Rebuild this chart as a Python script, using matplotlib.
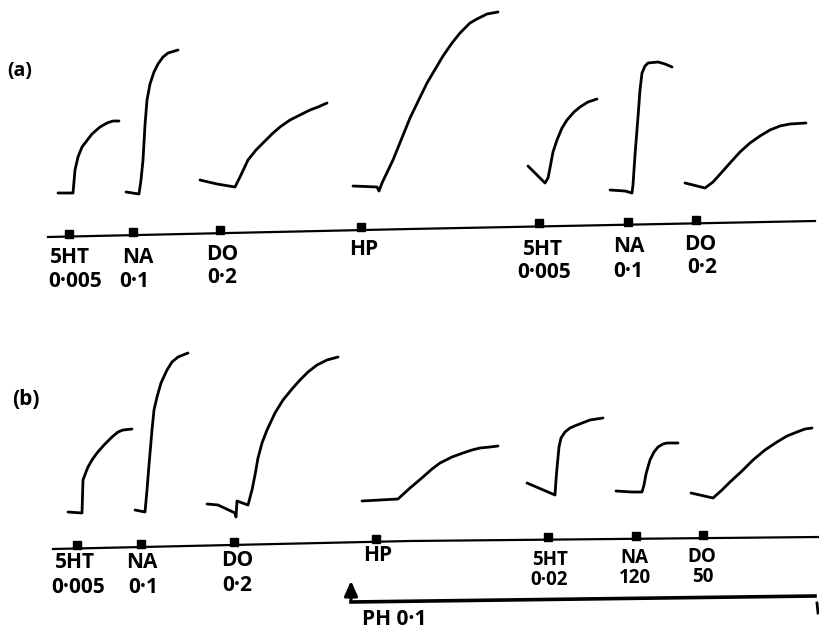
import matplotlib.pyplot as plt

# traces, pixel coords (x right, y down)
# panel (a)
a_5ht1 = [(58, 193), (73, 193), (75, 170), (78, 157), (82, 147), (92, 134), (100, 127), (107, 123), (113, 121), (119, 121)]
a_na1 = [(126, 192), (139, 194), (141, 180), (143, 160), (145, 125), (147, 100), (150, 84), (154, 72), (158, 64), (163, 57), (168, 53), (178, 50)]
a_do1 = [(200, 180), (217, 184), (235, 187), (240, 177), (248, 160), (256, 150), (263, 143), (272, 134), (280, 127), (290, 120), (300, 115), (310, 110), (318, 107), (327, 103)]
a_hp = [(353, 186), (377, 187), (379, 191), (382, 183), (393, 160), (410, 118), (427, 83), (443, 56), (452, 43), (460, 33), (470, 23), (477, 19), (487, 14), (498, 12)]
a_5ht2 = [(528, 166), (545, 183), (548, 178), (550, 168), (553, 152), (557, 140), (562, 128), (567, 120), (574, 112), (580, 107), (588, 102), (597, 99)]
a_na2 = [(610, 190), (625, 191), (632, 193), (633, 185), (635, 155), (638, 117), (640, 90), (642, 73), (645, 66), (648, 63), (658, 62), (665, 64), (672, 67)]
a_do2 = [(685, 183), (705, 188), (713, 182), (722, 172), (730, 163), (740, 152), (750, 143), (760, 136), (770, 130), (780, 126), (790, 124), (806, 123)]

# panel (b)
b_5ht1 = [(68, 512), (82, 513), (83, 480), (86, 472), (88, 467), (92, 460), (97, 453), (104, 445), (112, 437), (118, 432), (123, 430), (132, 429)]
b_na1 = [(135, 510), (145, 512), (147, 490), (149, 465), (152, 430), (154, 410), (157, 397), (161, 383), (167, 370), (172, 362), (178, 357), (188, 353)]
b_do1 = [(207, 504), (218, 505), (235, 513), (236, 517), (237, 501), (248, 505), (252, 490), (255, 475), (258, 458), (262, 443), (267, 430), (275, 413), (283, 400), (292, 389), (300, 380), (308, 372), (317, 365), (327, 360), (338, 357)]
b_hp = [(362, 501), (398, 499), (410, 488), (423, 477), (432, 469), (440, 463), (452, 457), (463, 453), (472, 450), (480, 448), (490, 447), (498, 446)]
b_5ht2 = [(527, 483), (555, 495), (556, 480), (557, 468), (559, 447), (561, 438), (565, 432), (570, 428), (577, 425), (590, 420), (603, 418)]
b_na2 = [(616, 491), (632, 492), (642, 492), (644, 485), (646, 474), (650, 460), (654, 452), (658, 447), (663, 444), (667, 443), (678, 443)]
b_do2 = [(691, 493), (713, 498), (722, 490), (730, 482), (742, 471), (753, 460), (765, 450), (777, 442), (787, 436), (797, 432), (805, 429), (812, 428)]

traces = [a_5ht1, a_na1, a_do1, a_hp, a_5ht2, a_na2, a_do2,
          b_5ht1, b_na1, b_do1, b_hp, b_5ht2, b_na2, b_do2]

# time base lines and drug markers
a_base = [(48, 237), (410, 229), (815, 221)]
b_base = [(53, 549), (410, 541), (819, 537)]
a_marks = [69, 133, 220, 361, 539, 628, 696]
b_marks = [77, 141, 234, 376, 548, 636, 703]

a_drugs = ["5HT", "NA", "DO", "HP", "5HT", "NA", "DO"]
a_doses = ["0·005", "0·1", "0·2", "", "0·005", "0·1", "0·2"]
a_drug_xy = [(70, 263), (138, 263), (222, 260), (364, 255), (543, 255), (629, 252), (700, 250)]
a_dose_xy = [(75, 287), (134, 287), (222, 283), (0, 0), (544, 278), (628, 277), (702, 273)]

b_drugs = ["5HT", "NA", "DO", "HP", "5HT", "NA", "DO"]
b_doses = ["0·005", "0·1", "0·2", "", "0·02", "120", "50"]
b_drug_xy = [(75, 568), (142, 568), (237, 566), (378, 561), (550, 565), (634, 563), (702, 562)]
b_dose_xy = [(78, 593), (143, 593), (237, 591), (0, 0), (549, 585), (635, 583), (703, 582)]
b_small = [False, False, False, False, True, True, True]

# phentolamine bar
ph_bar = [(351, 602), (815, 596)]

fig = plt.figure(figsize=(8.19, 6.31), dpi=100)
ax = fig.add_axes([0, 0, 1, 1])
ax.set_xlim(0, 819)
ax.set_ylim(631, 0)
ax.axis('off')

for tr in traces:
    xs = [p[0] for p in tr]
    ys = [p[1] for p in tr]
    ax.plot(xs, ys, color='black', lw=2.0, solid_capstyle='round', solid_joinstyle='round')

font = dict(family=['Open Sans', 'DejaVu Sans'], fontweight='bold', color='black', ha='center', va='baseline')


def base_y(base, x):
    for (x0, y0), (x1, y1) in zip(base[:-1], base[1:]):
        if x <= x1:
            return y0 + (y1 - y0) * (x - x0) / (x1 - x0)
    return base[-1][1]


for base, marks, drugs, doses, dxy, sxy, small in [
        (a_base, a_marks, a_drugs, a_doses, a_drug_xy, a_dose_xy, [False] * 7),
        (b_base, b_marks, b_drugs, b_doses, b_drug_xy, b_dose_xy, b_small)]:
    ax.plot([p[0] for p in base], [p[1] for p in base], color='black', lw=1.6)
    for m in marks:
        ax.plot(m, base_y(base, m) - 3, marker='s', color='black', ms=5.5)
    for d, xy, sm in zip(drugs, dxy, small):
        ax.text(xy[0], xy[1], d, fontsize=13.5 if sm else 15, **font)
    for s, xy, sm in zip(doses, sxy, small):
        if s:
            ax.text(xy[0], xy[1], s, fontsize=13.5 if sm else 15, **font)

ax.text(20, 76, "(a)", fontsize=14, **font)
ax.text(26, 405, "(b)", fontsize=15, **font)

# PH 0·1 bar with arrow
(px0, py0), (px1, py1) = ph_bar
ax.plot([px0, px1], [py0, py1], color='black', lw=2.6)
ax.annotate('', xy=(px0, 578), xytext=(px0, py0 + 1),
            arrowprops=dict(arrowstyle='-|>,head_length=0.9,head_width=0.4', color='black', lw=2.2))
ax.plot([817, 818], [603, 613], color='black', lw=2)
ax.text(362, 625, "PH 0·1", family=['Open Sans', 'DejaVu Sans'], fontweight='bold', fontsize=15, ha='left', va='baseline')

fig.savefig('out.png', dpi=100)
